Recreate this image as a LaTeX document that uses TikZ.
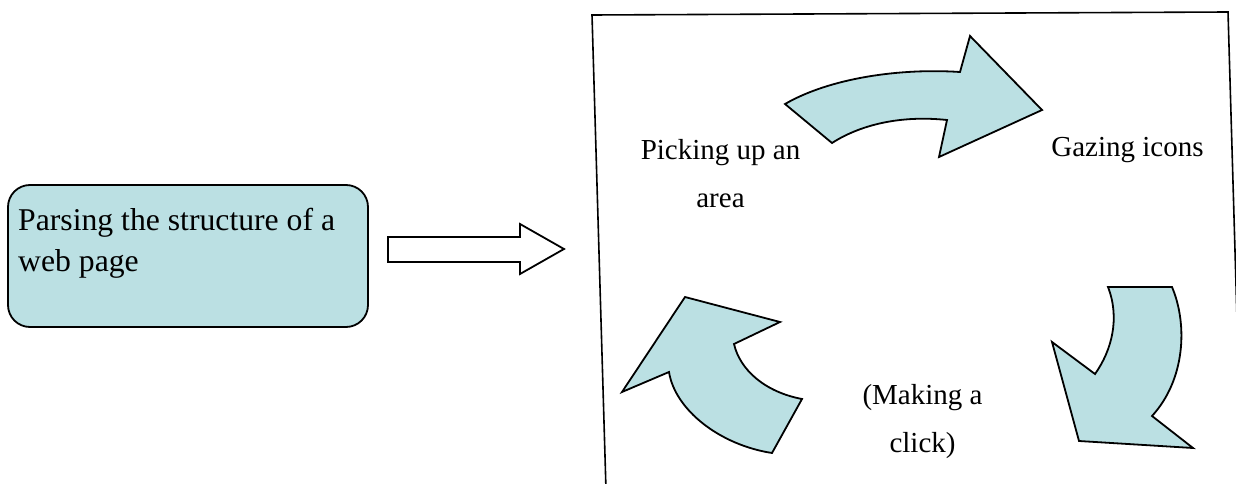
\documentclass[tikz,border=0pt]{standalone}
\usepackage{fontspec}
\setmainfont{Liberation Serif}
\definecolor{arrowfill}{RGB}{187,224,227}
\tikzset{
  blockarrow/.style={draw=black, fill=arrowfill, line width=1.8pt, line join=miter},
  hollowarrow/.style={draw=black, fill=white, line width=1.8pt, line join=miter},
  frameline/.style={draw=black, line width=1.6pt},
  parsebox/.style={draw=black, fill=arrowfill, line width=1.8pt, rounded corners=22pt, minimum width=360pt, minimum height=142pt, inner sep=0pt},
  boxtext/.style={font=\fontsize{31.7}{41}\selectfont, align=left, inner sep=0pt},
  cyclelabel/.style={font=\fontsize{29}{48}\selectfont, align=center, inner sep=0pt}
}
\begin{document}
\begin{tikzpicture}[x=1pt,y=-1pt]
\useasboundingbox (0,0) rectangle (1236,484);
\clip (0,0) rectangle (1236,484);
% left box
\node[parsebox] (parse) at (188,256) {};
\node[boxtext, anchor=base west] (parsetext) at (18,271) {Parsing the structure of a\\web page};
% hollow arrow
\draw[hollowarrow] (388,237) -- (520,237) -- (520,224) -- (564,249) -- (520,274) -- (520,262) -- (388,262) -- cycle;
% frame
\coordinate (ftl) at (592,15);
\coordinate (ftr) at (1228,12);
\coordinate (fbl) at (606,490);
\coordinate (fbr) at (1242,490);
\draw[frameline] (fbl) -- (ftl) -- (ftr) -- (fbr);
% top arrow
\draw[blockarrow] (785,104) .. controls (830,78) and (900,68) .. (960,72)
  -- (970,36) -- (1042,110) -- (939,157) -- (947,120)
  .. controls (900,115) and (860,125) .. (832,143) -- cycle;
% right arrow
\draw[blockarrow] (1108,287) -- (1172,287)
  .. controls (1188,325) and (1185,380) .. (1152,416)
  -- (1193,448) -- (1079,441) -- (1052,342) -- (1095,374)
  .. controls (1112,350) and (1120,318) .. (1108,287) -- cycle;
% left arrow
\draw[blockarrow] (685,297) -- (780,322) -- (734,344)
  .. controls (740,370) and (765,392) .. (802,399)
  -- (772,453)
  .. controls (720,445) and (675,410) .. (669,372)
  -- (622,392) -- cycle;
% labels
\node[cyclelabel, anchor=base] (pick) at (720.5,207) {Picking up an\\area};
\node[cyclelabel, anchor=base] (gaze) at (1127.5,157) {Gazing icons};
\node[cyclelabel, anchor=base] (click) at (922.5,452) {(Making a\\click)};
\end{tikzpicture}
\end{document}
